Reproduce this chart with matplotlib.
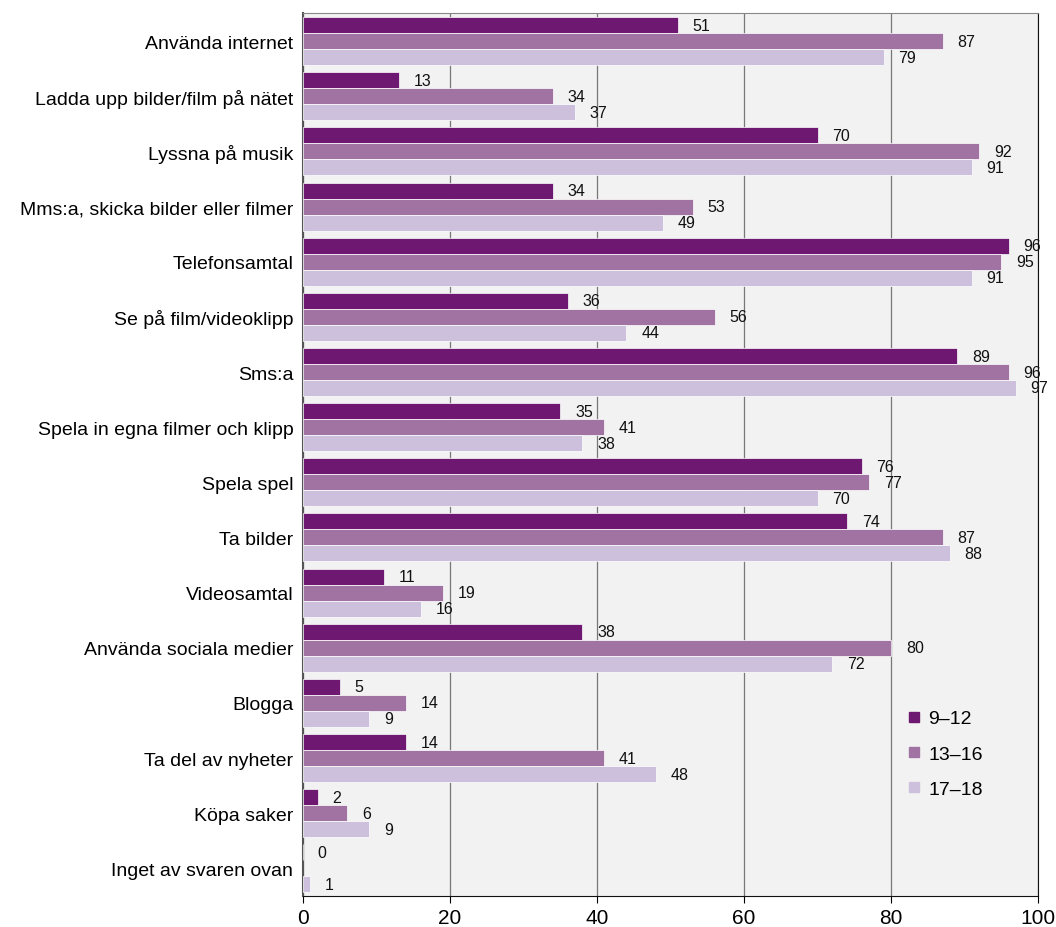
import numpy as np
import matplotlib
matplotlib.use("Agg")
import matplotlib.pyplot as plt
from matplotlib.lines import Line2D

plt.rcParams['font.family'] = ['Liberation Sans', 'DejaVu Sans']

categories = [
    "Använda internet",
    "Ladda upp bilder/film på nätet",
    "Lyssna på musik",
    "Mms:a, skicka bilder eller filmer",
    "Telefonsamtal",
    "Se på film/videoklipp",
    "Sms:a",
    "Spela in egna filmer och klipp",
    "Spela spel",
    "Ta bilder",
    "Videosamtal",
    "Använda sociala medier",
    "Blogga",
    "Ta del av nyheter",
    "Köpa saker",
    "Inget av svaren ovan",
]
series_names = ["9–12", "13–16", "17–18"]
v_9_12 = [51, 13, 70, 34, 96, 36, 89, 35, 76, 74, 11, 38, 5, 14, 2, 0]
v_13_16 = [87, 34, 92, 53, 95, 56, 96, 41, 77, 87, 19, 80, 14, 41, 6, None]
v_17_18 = [79, 37, 91, 49, 91, 44, 97, 38, 70, 88, 16, 72, 9, 48, 9, 1]
colors = ["#6e1872", "#a173a3", "#ccc0dc"]

fig = plt.figure(figsize=(10.56, 9.28), dpi=100)
ax = fig.add_axes([0.287, 0.0334, 0.696, 0.951])
ax.set_facecolor("#f2f2f2")

n = len(categories)
y = np.arange(n)
h = 0.29
series = [v_9_12, v_13_16, v_17_18]
for i, (vals, col) in enumerate(zip(series, colors)):
    pos = y + (i - 1) * h
    for p, v in zip(pos, vals):
        if v is None:
            continue
        ax.barh(p, v, height=h, color=col, edgecolor="white", linewidth=0.5, zorder=3)
        ax.text(v + 2.0, p, str(v), va="center", ha="left", fontsize=11.5, color="#111111", zorder=4)

ax.set_ylim(n - 0.5, -0.5)
ax.set_xlim(0, 100)
ax.set_yticks(y)
ax.set_yticklabels(categories, fontsize=14)
ax.set_xticks([0, 20, 40, 60, 80, 100])
ax.tick_params(axis='x', labelsize=15, length=5, direction='out')
ax.tick_params(axis='y', length=0, pad=7)
ax.grid(axis='x', color="#777777", linewidth=0.9, zorder=1)
ax.spines["top"].set_color("#888888")
ax.spines["left"].set_color("#555555")
ax.spines["left"].set_linewidth(1.5)
ax.spines["right"].set_color("#111111")
ax.spines["bottom"].set_color("#111111")

handles = [Line2D([0], [0], marker='s', linestyle='none', markersize=7,
                  markerfacecolor=c, markeredgecolor=c) for c in colors]
ax.legend(handles, series_names, loc="upper left", bbox_to_anchor=(0.815, 0.211),
          frameon=False, fontsize=14, handletextpad=0.15, labelspacing=0.9,
          borderaxespad=0, borderpad=0, handlelength=1.2)

fig.savefig("out.png", dpi=100)
